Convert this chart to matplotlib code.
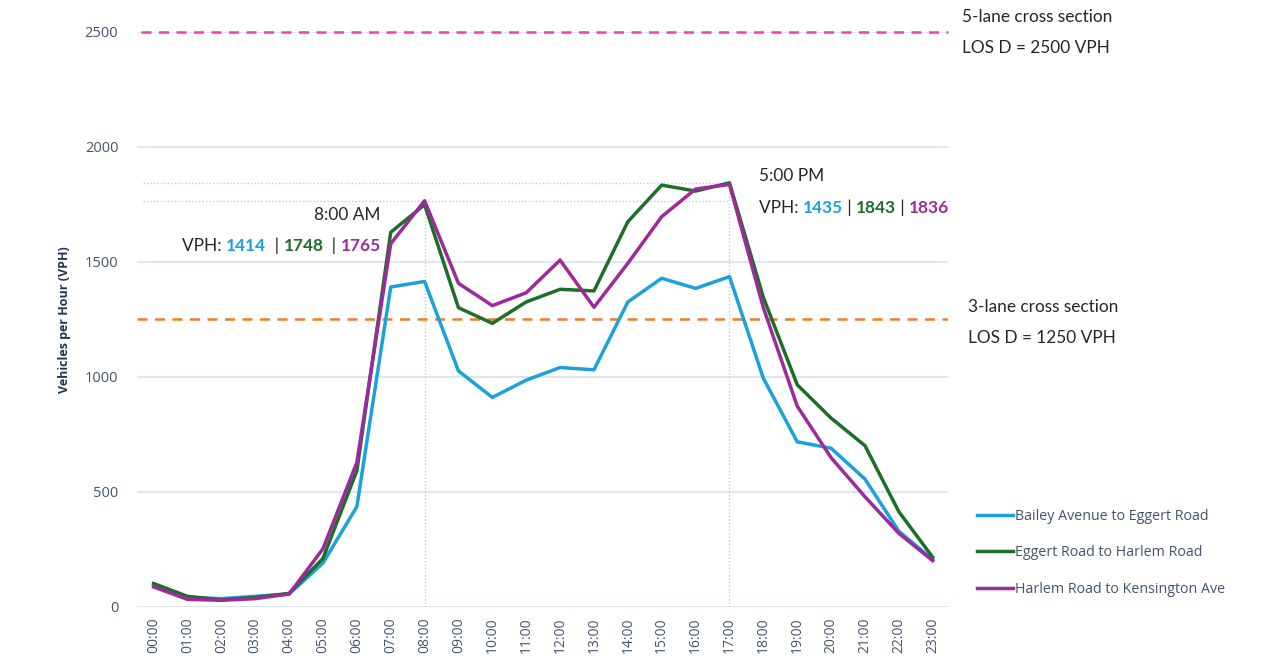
import matplotlib
matplotlib.use('Agg')
import matplotlib.pyplot as plt

# ---- data ----
hours = ['%02d:00' % h for h in range(24)]
bailey = [95, 40, 35, 45, 55, 190, 435, 1390, 1414, 1025, 910, 985,
          1040, 1030, 1325, 1428, 1384, 1435, 993, 717, 689, 555, 328, 205]
eggert = [101, 45, 30, 40, 58, 210, 591, 1628, 1748, 1300, 1232, 1325,
          1380, 1373, 1674, 1833, 1807, 1843, 1345, 965, 820, 700, 413, 215]
harlem = [86, 32, 28, 35, 55, 252, 627, 1578, 1765, 1406, 1309, 1365,
          1507, 1302, 1493, 1696, 1816, 1836, 1300, 872, 648, 478, 319, 200]
series_names = ['Bailey Avenue to Eggert Road', 'Eggert Road to Harlem Road',
                'Harlem Road to Kensington Ave']
series_colors = ['#1ba1dc', '#1d6f27', '#9c2a9c']
los_5lane = 2500
los_3lane = 1250
am_peak, pm_peak = 8, 17

W, H = 1264, 660
fig = plt.figure(figsize=(W / 100, H / 100), dpi=100)
ax = fig.add_axes([137 / W, 1 - 606.7 / H, (948.3 - 137) / W, 575 / H])

tick_col = '#44546a'
ax.set_xlim(-0.49, 23.46)
ax.set_ylim(0, 2500)
ax.set_yticks(range(0, 2501, 500))
ax.set_xticks(range(24))
ax.set_xticklabels(hours, rotation=90)
ax.grid(axis='y', color='#d4e3f4', lw=1.2)
ax.set_axisbelow(True)
for s in ax.spines.values():
    s.set_visible(False)
ax.tick_params(length=0, colors=tick_col, pad=8)
ax.tick_params(axis='x', labelsize=10)
ax.tick_params(axis='y', labelsize=10.5, pad=13.5)
for lab in ax.get_xticklabels() + ax.get_yticklabels():
    lab.set_family('Open Sans')
ax.set_ylabel('Vehicles per Hour (VPH)', fontsize=9, fontweight='bold',
              color='#1f3550', family='Open Sans', labelpad=10)

# peak guide lines
dot = dict(color='#c8c8c8', lw=1, ls=(0, (1, 1.5)), zorder=1)
ax.plot([am_peak, am_peak], [0, harlem[am_peak]], **dot)
ax.plot([pm_peak, pm_peak], [0, eggert[pm_peak]], **dot)
ax.plot([-0.3, pm_peak], [eggert[pm_peak]] * 2, **dot)
ax.plot([-0.3, pm_peak], [harlem[am_peak]] * 2, **dot)

# capacity lines
ax.axhline(los_5lane, xmin=0.005, color='#ee3fb0', lw=1.8, ls=(0, (4, 3)),
           clip_on=False, zorder=2)
ax.axhline(los_3lane, color='#f07b2c', lw=1.8, ls=(0, (4, 3)), zorder=2)

handles = []
for vals, name, col in zip([bailey, eggert, harlem], series_names, series_colors):
    ln, = ax.plot(range(24), vals, color=col, lw=2.5, label=name, zorder=3)
    handles.append(ln)

fig.legend(handles, series_names, loc='upper left',
           bbox_to_anchor=(964 / W, 1 - 496 / H), frameon=False,
           handlelength=2.5, handletextpad=0.15, labelspacing=1.5,
           prop={'family': 'Open Sans', 'size': 10.3}, labelcolor=tick_col)

txt_col = '#262626'
font = dict(family='Lato', fontsize=12.4, color=txt_col, va='center')


def px(x, y):
    return x / W, 1 - y / H


def multi_text(x, y, parts, align='left'):
    # draw coloured pieces one after another in pixel space
    r = fig.canvas.get_renderer()
    objs = []
    cur = x
    for s, c, bold in parts:
        t = fig.text(*px(cur, y), s, fontweight='bold' if bold else 'normal',
                     **{**font, 'color': c})
        cur = t.get_window_extent(r).x1
        objs.append(t)
    if align == 'right':
        shift = cur - x
        for t in objs:
            xx, yy = t.get_position()
            t.set_position((xx - shift / W, yy))


fig.text(*px(381, 215), '8:00 AM', ha='right', **font)
multi_text(381, 246, [('VPH: ', txt_col, False), ('1414', series_colors[0], True),
                      ('  | ', txt_col, False), ('1748', series_colors[1], True),
                      ('  | ', txt_col, False), ('1765', series_colors[2], True)],
           align='right')
fig.text(*px(759, 176), '5:00 PM', **font)
multi_text(759, 208, [('VPH: ', txt_col, False), ('1435', series_colors[0], True),
                      (' | ', txt_col, False), ('1843', series_colors[1], True),
                      (' | ', txt_col, False), ('1836', series_colors[2], True)])

fig.text(*px(962, 17), '5-lane cross section', **font)
fig.text(*px(962, 48), 'LOS D = 2500 VPH', **font)
fig.text(*px(968, 307), '3-lane cross section', **font)
fig.text(*px(968, 338), 'LOS D = 1250 VPH', **font)

fig.savefig('out.png', dpi=100)
